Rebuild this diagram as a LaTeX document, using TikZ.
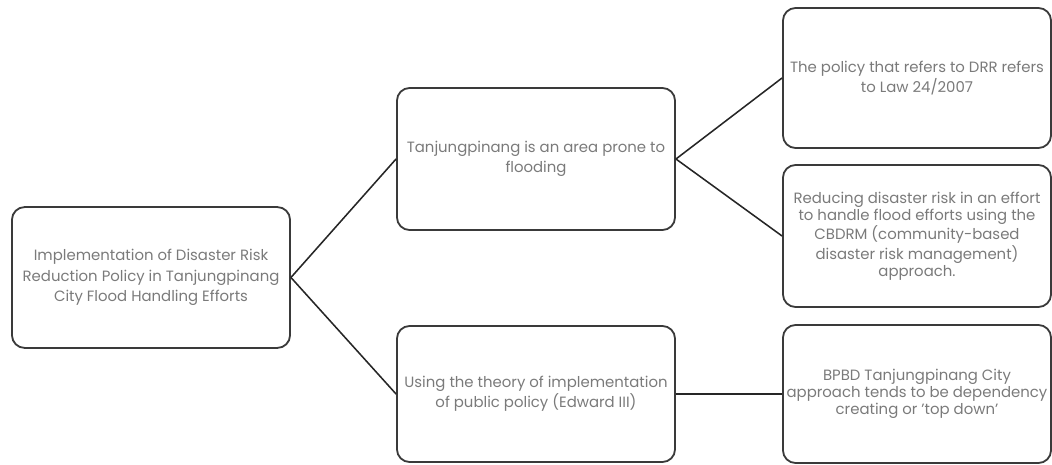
\documentclass[tikz,border=0pt]{standalone}
\usepackage{fontspec}
\setmainfont{Poppins}
\definecolor{boxline}{HTML}{3A3A3A}
\definecolor{boxtext}{HTML}{7A7A7A}
\begin{document}
\begin{tikzpicture}[x=0.025cm,y=-0.025cm,
  card/.style={draw=boxline,line width=1.3pt,rounded corners=9pt,align=center,
    text=boxtext,inner sep=2pt,font=\fontsize{10.6}{14.5}\selectfont},
  sidecard/.style={card,font=\fontsize{10.6}{12.2}\selectfont},
  link/.style={line width=1.1pt,black!85}]
\useasboundingbox (0,0) rectangle (1052,465);

\node [card,minimum width=6.95cm,minimum height=3.52cm] (root) at (151,277.5)
  {Implementation of Disaster Risk\\Reduction Policy in Tanjungpinang\\City Flood Handling Efforts};

\node [card,minimum width=6.95cm,minimum height=3.55cm] (prone) at (536,159)
  {Tanjungpinang is an area prone to\\flooding};
\node [card,minimum width=6.95cm,minimum height=3.4cm] (theory) at (536,394)
  {Using the theory of implementation\\of public policy (Edward III)};

\node [sidecard,minimum width=6.7cm,minimum height=3.5cm] (law) at (917,78)
  {The policy that refers to DRR refers\\to Law 24/2007};
\node [sidecard,minimum width=6.7cm,minimum height=3.55cm] (cbdrm) at (917,236)
  {Reducing disaster risk in an effort\\to handle flood efforts using the\\CBDRM (community-based\\disaster risk management)\\approach.};
\node [sidecard,minimum width=6.7cm,minimum height=3.45cm] (bpbd) at (917,394)
  {BPBD Tanjungpinang City\\approach tends to be dependency\\creating or 'top down'};

\draw [link] (root.east) -- (prone.west);
\draw [link] (root.east) -- (theory.west);
\draw [link] (prone.east) -- (law.west);
\draw [link] (prone.east) -- (cbdrm.west);
\draw [link] (theory.east) -- (bpbd.west);

\end{tikzpicture}
\end{document}
